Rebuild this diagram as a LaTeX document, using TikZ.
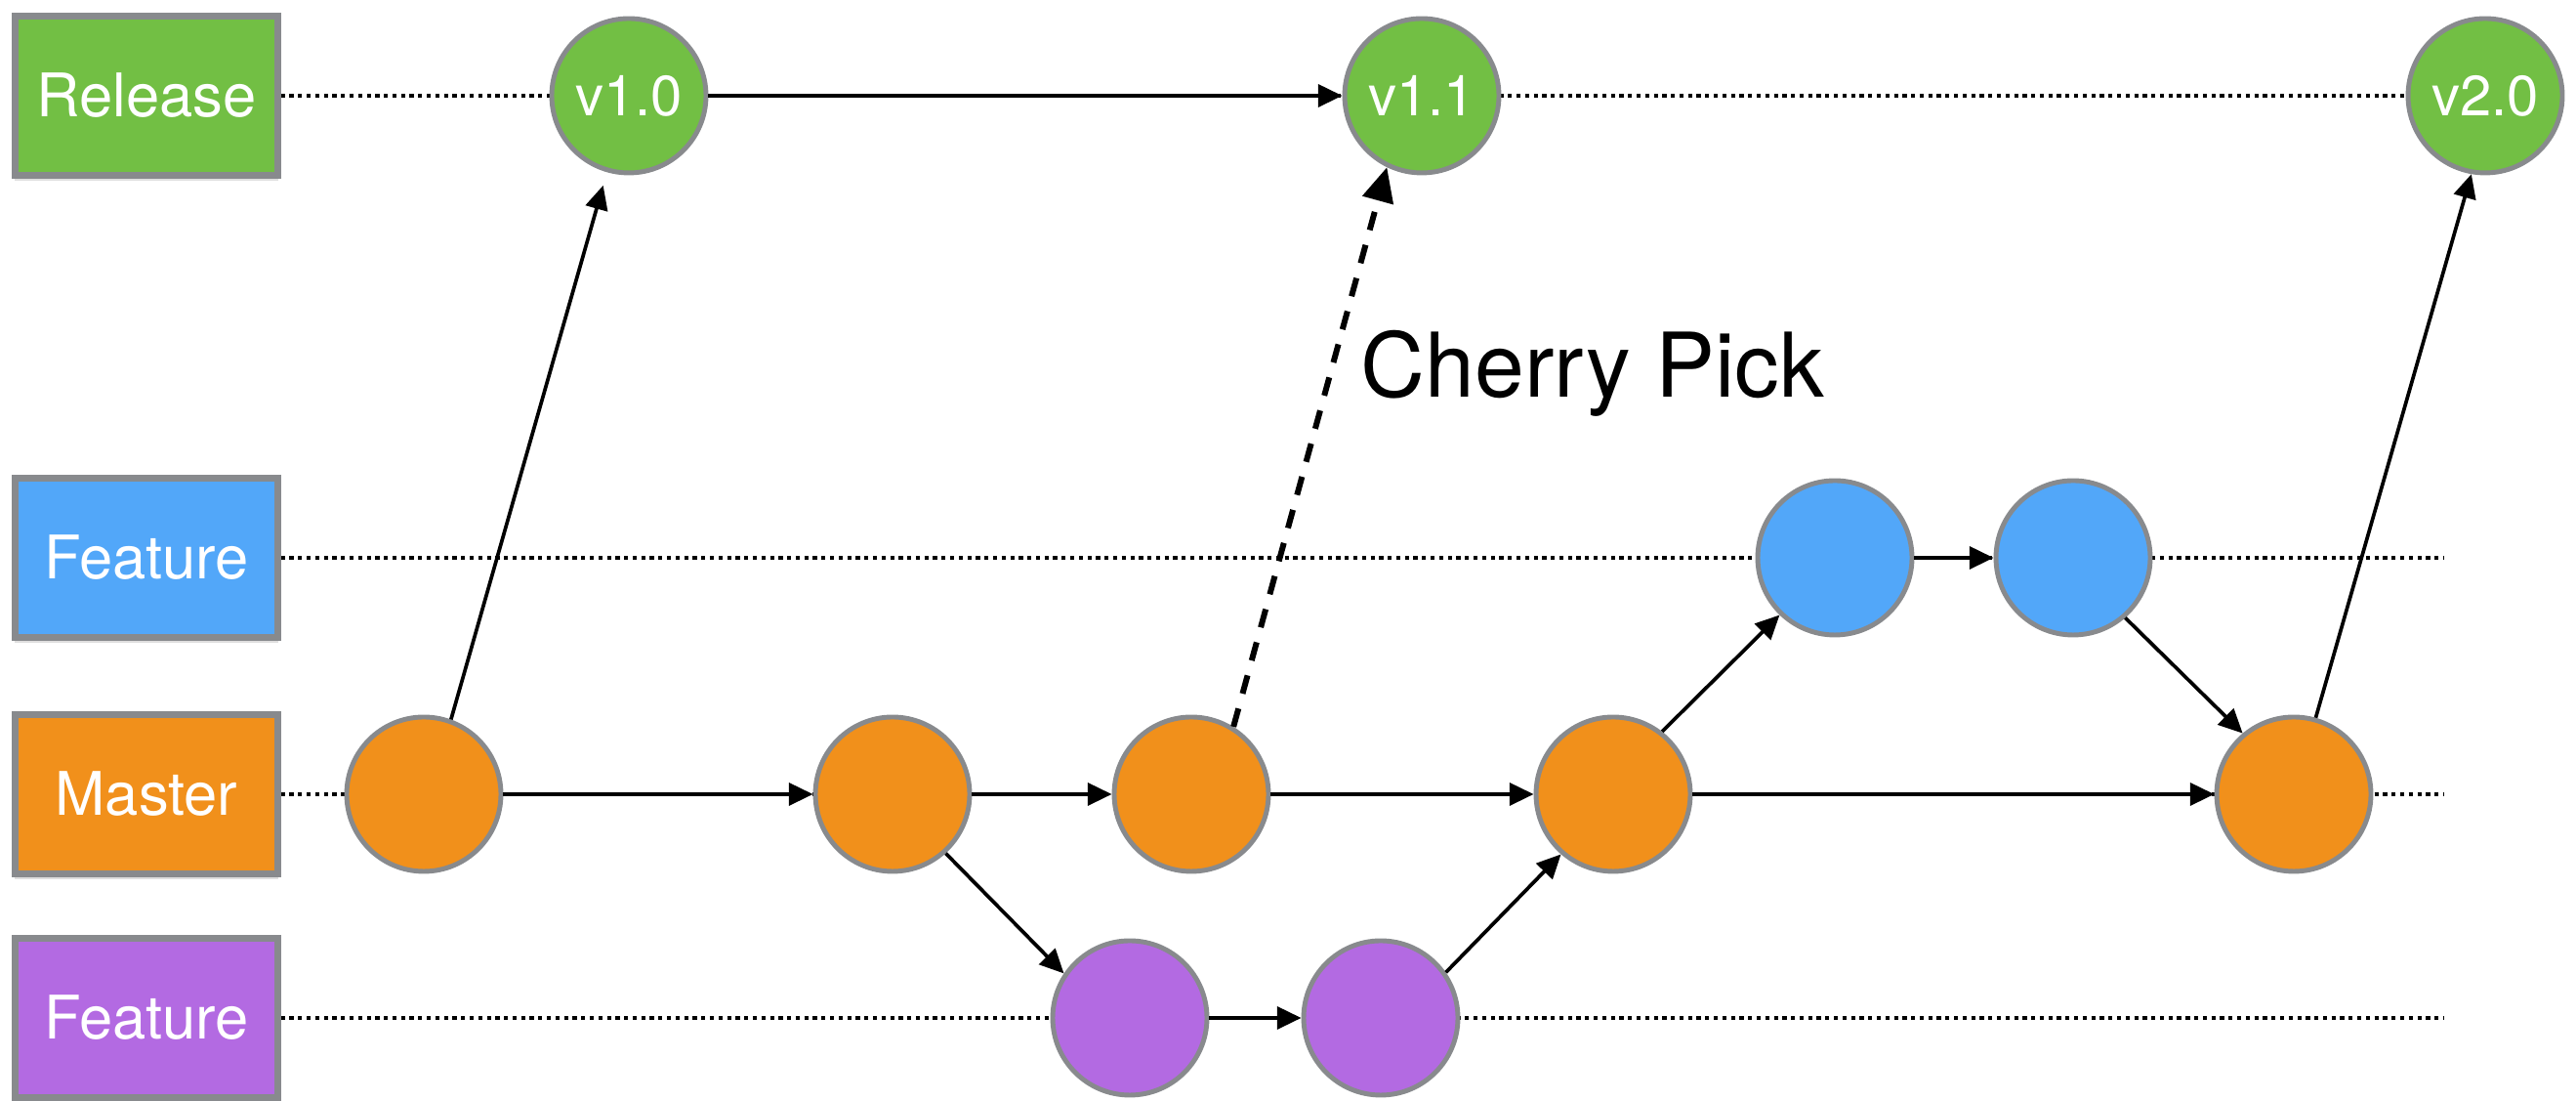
\documentclass[tikz,border=0pt]{standalone}
\usepackage{fontspec}
\setmainfont{TeX Gyre Heros}
\usetikzlibrary{%
  arrows.meta,%
  positioning,%
  shadows%
}
\definecolor{relgreen}{RGB}{114,191,68}
\definecolor{featblue}{RGB}{82,167,249}
\definecolor{mastorange}{RGB}{241,144,27}
\definecolor{featpurple}{RGB}{179,106,226}
\definecolor{rimgray}{RGB}{136,138,141}

\begin{document}
\begin{tikzpicture}
  [
  line width=1pt, draw=black,
  branch/.style={rectangle, minimum width=2.69cm, minimum height=1.63cm, draw=rimgray, line width=1.8pt, text=white, font=\fontsize{17.5}{20}\selectfont, drop shadow={shadow xshift=0pt, shadow yshift=-0.06cm, opacity=0.25}},
  commit/.style={circle, minimum size=1.58cm, inner sep=0pt, draw=rimgray, line width=1.4pt, text=white, font=\fontsize{16.5}{19}\selectfont},
  lane/.style={line width=0.95pt, dash pattern=on 1.2pt off 1.3pt},
  flow/.style={-{Triangle[length=7pt,width=6.5pt]}, line width=1.05pt},
  pick/.style={-{Triangle[length=10pt,width=9pt]}, line width=1.7pt, dash pattern=on 5.5pt off 4.5pt}
  ]

\useasboundingbox (0,0) rectangle (26.38,11.27);

\node[branch, fill=relgreen] (release) at (1.50,10.29) {Release};
\node[branch, fill=featblue] (featA) at (1.50,5.56) {Feature};
\node[branch, fill=mastorange] (master) at (1.50,3.14) {Master};
\node[branch, fill=featpurple] (featB) at (1.50,0.85) {Feature};

\coordinate (release-end) at (25.40,10.29);
\coordinate (featA-end) at (25.02,5.56);
\coordinate (master-end) at (25.02,3.14);
\coordinate (featB-end) at (25.02,0.85);

\foreach \b in {release,featA,master,featB} {
  \draw[lane] (\b.east) -- (\b-end);
}

\node[commit, fill=relgreen] (v10) at (6.44,10.29) {v1.0};
\node[commit, fill=relgreen] (v11) at (14.56,10.29) {v1.1};
\node[commit, fill=relgreen] (v20) at (25.45,10.29) {v2.0};

\foreach \n/\x in {1/4.34,2/9.14,3/12.20,4/16.52,5/23.49} {
  \node[commit, fill=mastorange] (m\n) at (\x,3.14) {};
}
\node[commit, fill=featblue] (b1) at (18.79,5.56) {};
\node[commit, fill=featblue] (b2) at (21.23,5.56) {};
\node[commit, fill=featpurple] (p1) at (11.57,0.85) {};
\node[commit, fill=featpurple] (p2) at (14.14,0.85) {};

\node[font=\fontsize{26}{31}\selectfont, anchor=base west] (cherry) at (13.80,7.20) {Cherry Pick};

\draw[flow, shorten >=4pt] (m1.70) -- (v10.254);
\draw[flow] (v10) -- (v11);
\draw[flow] (m1) -- (m2);
\draw[flow] (m2) -- (m3);
\draw[flow] (m3) -- (m4);
\draw[flow] (m4) -- (m5);
\draw[flow] (m2.-48) -- (p1.146);
\draw[flow] (p1) -- (p2);
\draw[flow] (p2.35) -- (m4.229);
\draw[flow] (m4.52) -- (b1.226);
\draw[flow] (b1) -- (b2);
\draw[flow] (b2.-49) -- (m5.130);
\draw[flow] (m5.74) -- (v20.260);
\draw[pick] (m3.58) -- (v11.244);
\end{tikzpicture}
\end{document}
